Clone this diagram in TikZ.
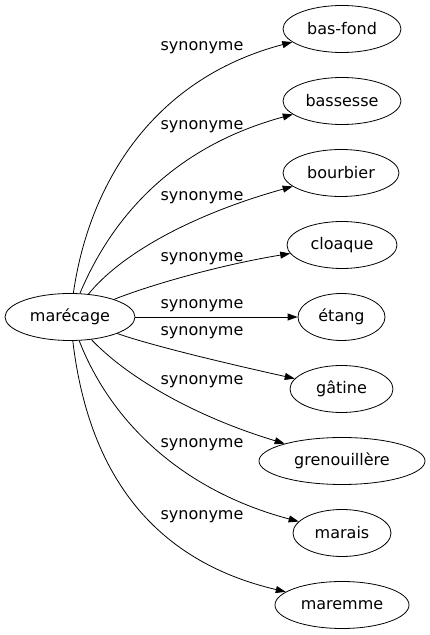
\documentclass[tikz,border=0pt]{standalone}
\usepackage{fontspec}
\setmainfont{DejaVu Sans}
\usepackage{tikz}
\usetikzlibrary{shapes.geometric, arrows.meta}
\tikzstyle{word} = [ellipse, minimum height=47pt, inner sep=0pt, text centered, draw=black, line width=0.8pt, fill=white, font=\fontsize{16}{19}\selectfont]
\tikzstyle{rel} = [inner sep=0pt, font=\fontsize{16}{19}\selectfont]
\tikzstyle{arrow} = [line width=0.8pt,->,>={Triangle[length=10pt,width=7pt]}]

\begin{document}
\begin{tikzpicture}[x=1pt, y=1pt]
\useasboundingbox (0,0) rectangle (429,635);

\node (marecage) [word, minimum width=130pt] at (70,318) {marécage};
\node (basfond) [word, minimum width=118pt] at (342,606) {bas-fond};
\node (bassesse) [word, minimum width=118pt] at (342,534) {bassesse};
\node (bourbier) [word, minimum width=116pt] at (341,462) {bourbier};
\node (cloaque) [word, minimum width=110pt] at (342,390) {cloaque};
\node (etang) [word, minimum width=87pt] at (341.5,318) {étang};
\node (gatine) [word, minimum width=103pt] at (341.5,246) {gâtine};
\node (grenouillere) [word, minimum width=166pt] at (342,174) {grenouillère};
\node (marais) [word, minimum width=98pt] at (342,102) {marais};
\node (maremme) [word, minimum width=134pt] at (342,30) {maremme};

\node (rel1) [rel] at (202,587) {synonyme};
\node (rel2) [rel] at (202,508) {synonyme};
\node (rel3) [rel] at (202,437) {synonyme};
\node (rel4) [rel] at (202,376) {synonyme};
\node (rel5) [rel] at (202,329) {synonyme};
\node (rel6) [rel] at (202,302) {synonyme};
\node (rel7) [rel] at (202,253) {synonyme};
\node (rel8) [rel] at (202,190) {synonyme};
\node (rel9) [rel] at (202,118) {synonyme};

\draw [arrow] (marecage) .. controls (88,445) and (148,555) .. (basfond);
\draw [arrow] (marecage) .. controls (115,425) and (180,490) .. (bassesse);
\draw [arrow] (marecage) .. controls (120,380) and (190,420) .. (bourbier);
\draw [arrow] (marecage) .. controls (150,350) and (220,370) .. (cloaque);
\draw [arrow] (marecage) -- (etang);
\draw [arrow] (marecage) .. controls (150,290) and (220,273) .. (gatine);
\draw [arrow] (marecage) .. controls (125,260) and (190,220) .. (grenouillere);
\draw [arrow] (marecage) .. controls (110,215) and (180,145) .. (marais);
\draw [arrow] (marecage) .. controls (88,165) and (150,75) .. (maremme);

\end{tikzpicture}
\end{document}
